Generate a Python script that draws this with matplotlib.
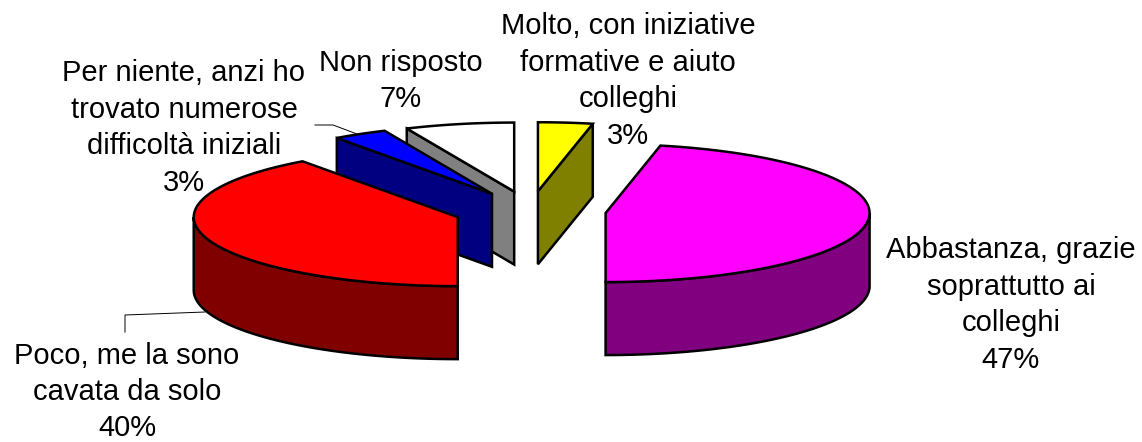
import numpy as np
import matplotlib
matplotlib.use('Agg')
import matplotlib.pyplot as plt
from matplotlib.patches import Polygon

labels = ['Molto, con iniziative\nformative e aiuto\ncolleghi',
          'Abbastanza, grazie\nsoprattutto ai\ncolleghi',
          'Poco, me la sono\ncavata da solo',
          'Per niente, anzi ho\ntrovato numerose\ndifficoltà iniziali',
          'Non risposto']
shares = [3.33, 46.67, 40.0, 3.33, 6.67]
top_colors = ['#FFFF00', '#FF00FF', '#FF0000', '#0000FF', '#FFFFFF']
side_colors = ['#808000', '#800080', '#800000', '#000080', '#808080']
label_pos = [(628, 81), (1011, 305), (127, 392), (184, 128), (401, 81)]

cx, cy = 530, 211      # pie centre in pixels
a, b = 264, 69         # ellipse semi axes
depth = 73
explode = 76
draw_order = [4, 3, 2, 0, 1]

plt.rcParams['font.family'] = ['Liberation Sans', 'DejaVu Sans']

fig = plt.figure(figsize=(11.42, 4.42), dpi=100)
ax = fig.add_axes([0, 0, 1, 1])
ax.set_xlim(0, 1142)
ax.set_ylim(442, 0)
ax.axis('off')


def rim(x0, y0, t0, t1):
    t = np.linspace(t0, t1, 80)
    return np.column_stack([x0 + a * np.sin(t), y0 - b * np.cos(t)])


def poly(pts, color):
    ax.add_patch(Polygon(pts, closed=True, fc=color, ec='black', lw=1.8, joinstyle='miter'))


edges = np.radians(np.concatenate([[0], np.cumsum(shares)]) * 3.6)

for i in draw_order:
    t0, t1 = edges[i], edges[i + 1]
    mid = (t0 + t1) / 2
    x0 = cx + explode * np.sin(mid)
    y0 = cy - explode * b / a * np.cos(mid)
    down = np.array([0, depth])
    apex = np.array([x0, y0])

    # flat cut faces, only the ones turned towards the viewer
    for t, visible in ((t0, np.sin(t0) < -1e-6), (t1, np.sin(t1) > 1e-6)):
        if visible:
            p = rim(x0, y0, t, t)[0]
            poly([apex, p, p + down, apex + down], side_colors[i])

    # outer wall, front half of the ellipse only
    lo, hi = max(t0, np.pi / 2), min(t1, 3 * np.pi / 2)
    if lo < hi:
        arc = rim(x0, y0, lo, hi)
        poly(np.vstack([arc, arc[::-1] + down]), side_colors[i])

    poly(np.vstack([[apex], rim(x0, y0, t0, t1)]), top_colors[i])

# leader lines
ax.plot([315, 333, 357], [125, 125, 134], color='black', lw=0.7, zorder=1)
ax.plot([205, 125, 125], [312, 315, 332], color='black', lw=0.7, zorder=1)

for lab, s, (x, y) in zip(labels, shares, label_pos):
    ax.text(x, y, f'{lab}\n{round(s)}%', ha='center', va='center', fontsize=21,
            color='black', linespacing=1.38)

fig.savefig('out.png', dpi=100)
